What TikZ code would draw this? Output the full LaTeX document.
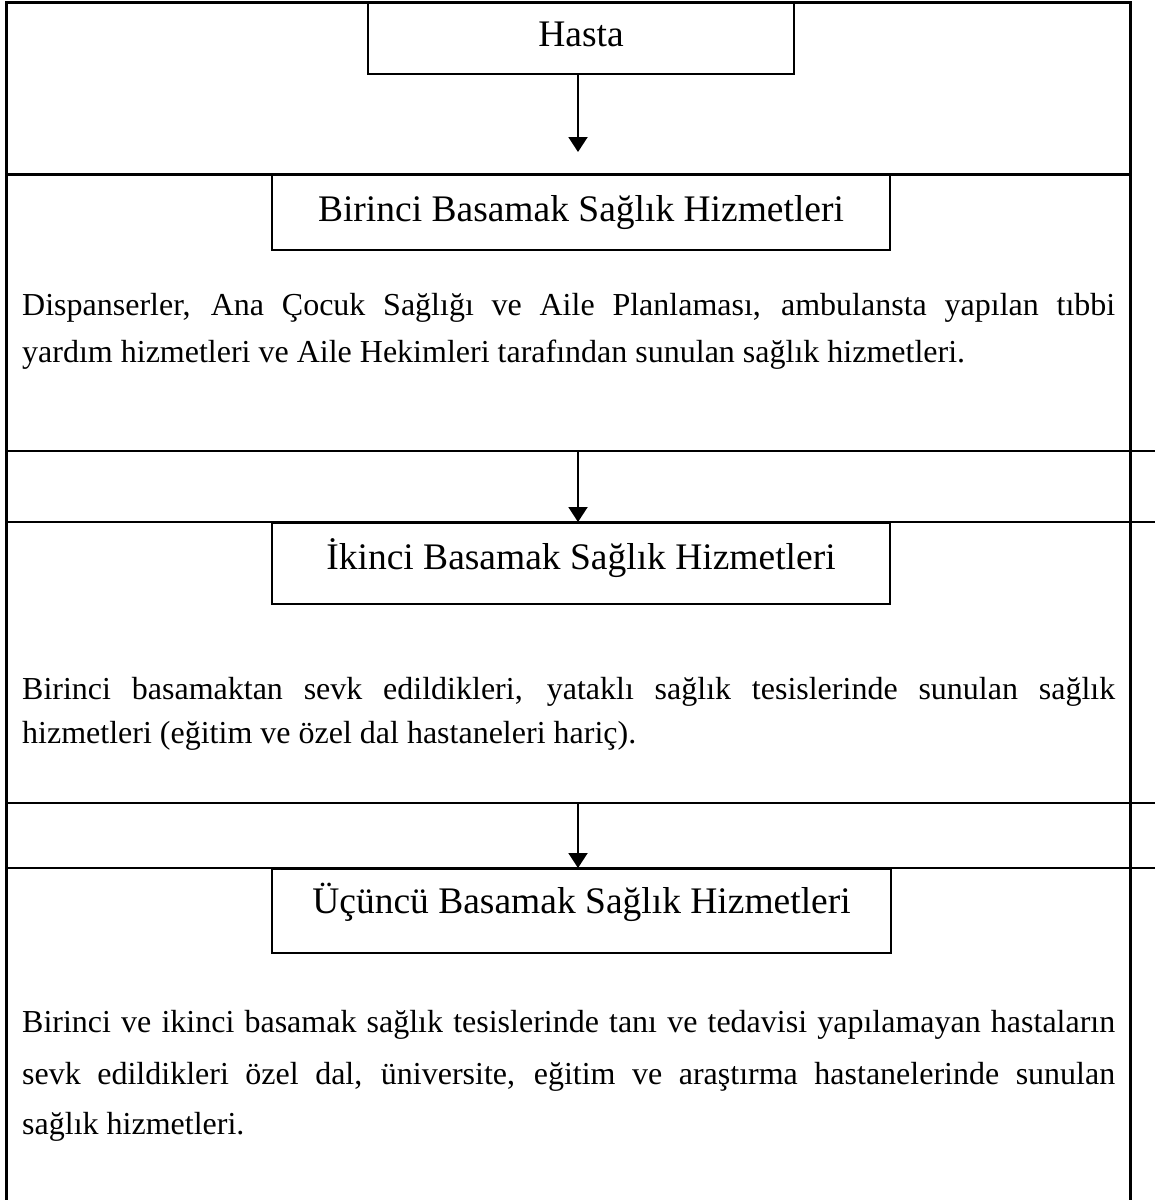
\documentclass[tikz,border=0pt]{standalone}
\usepackage{fontspec}
\setmainfont{Liberation Serif}
\usetikzlibrary{arrows.meta}
\begin{document}
\begin{tikzpicture}[x=1pt,y=-1pt,
  frame/.style={line width=3pt},
  rule/.style={line width=2pt},
  titlebox/.style={draw,line width=2pt,inner sep=0pt,anchor=north,
    font=\fontsize{37.5pt}{45pt}\selectfont},
  body/.style={anchor=base west,inner sep=0pt,
    font=\fontsize{32pt}{48pt}\selectfont},
  arr/.style={line width=2pt,-{Triangle[length=15pt,width=19pt]}}]
\useasboundingbox (0,0) rectangle (1155,1200);

% outer frame (open at the bottom)
\draw[frame] (6,1200) -- (6,2) -- (1130,2) -- (1130,1200);
\draw[frame] (6,174) -- (1130,174);
% section rules
\draw[rule] (6,451) -- (1155,451);
\draw[rule] (6,522) -- (1155,522);
\draw[rule] (6,803) -- (1155,803);
\draw[rule] (6,868) -- (1155,868);

% title boxes
\node[titlebox,minimum width=426pt,minimum height=71pt,text height=27pt,text depth=12pt]
  (hasta) at (581,2) {Hasta};
\node[titlebox,minimum width=618pt,minimum height=75pt,text height=27pt,text depth=10pt]
  (birinci) at (581,174) {Birinci Basamak Sağlık Hizmetleri};
\node[titlebox,minimum width=618pt,minimum height=81pt,text height=27pt,text depth=16pt]
  (ikinci) at (581,522) {İkinci Basamak Sağlık Hizmetleri};
\node[titlebox,minimum width=619pt,minimum height=84pt,text height=27pt,text depth=22pt]
  (ucuncu) at (581.5,868) {Üçüncü Basamak Sağlık Hizmetleri};

% arrows
\coordinate (t1) at (578,152);
\draw[arr] (hasta.south -| t1) -- (t1);
\coordinate (a2) at (578,451);
\draw[arr] (a2) -- (ikinci.north -| a2);
\coordinate (a3) at (578,803);
\draw[arr] (a3) -- (ucuncu.north -| a3);

% body texts
\node[body] (p1a) at (22,315) {\makebox[1093pt][s]{Dispanserler, Ana Çocuk Sağlığı ve Aile Planlaması, ambulansta yapılan tıbbi}};
\node[body] (p1b) at (22,362) {yardım hizmetleri ve Aile Hekimleri tarafından sunulan sağlık hizmetleri.};

\node[body] (p2a) at (22,699) {\makebox[1093pt][s]{Birinci basamaktan sevk edildikleri, yataklı sağlık tesislerinde sunulan sağlık}};
\node[body] (p2b) at (22,743) {hizmetleri (eğitim ve özel dal hastaneleri hariç).};

\node[body] (p3a) at (22,1032) {\makebox[1093pt][s]{Birinci ve ikinci basamak sağlık tesislerinde tanı ve tedavisi yapılamayan hastaların}};
\node[body] (p3b) at (22,1084) {\makebox[1093pt][s]{sevk edildikleri özel dal, üniversite, eğitim ve araştırma hastanelerinde sunulan}};
\node[body] (p3c) at (22,1134) {sağlık hizmetleri.};
\end{tikzpicture}
\end{document}
